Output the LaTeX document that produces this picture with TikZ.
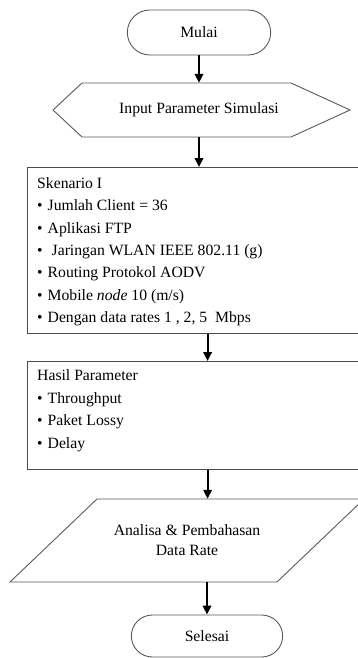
\documentclass[tikz,border=0pt]{standalone}
\usepackage{fontspec}
\setmainfont{Liberation Serif}
\usetikzlibrary{shapes.misc,arrows.meta}
\begin{document}
\begin{tikzpicture}[x=1pt,y=-1pt,
  flowline/.style={line width=2pt, -{Triangle[length=9pt,width=8.5pt]}},
  outline/.style={draw=black!65, line width=0.9pt},
  boxline/.style={draw=black!70, line width=1.2pt},
  terminal/.style={rounded rectangle, outline, txt},
  txt/.style={font=\fontsize{15.7}{22.4}\selectfont},
  listtext/.style={txt, anchor=north west, align=left, inner sep=0pt},
]
\useasboundingbox (0,0) rectangle (358,658);
\clip (0,0) rectangle (358,658);

% start terminal
\node[terminal, minimum width=150pt, minimum height=45pt] (mulai) at (199,32.5) {Mulai};

% input hexagon
\node[txt, minimum width=200pt, minimum height=54pt, inner sep=0pt] (input) at (199,110) {Input Parameter Simulasi};
\draw[outline] (53,110) -- (82,83) -- (291,83) -- (350,110) -- (291,137) -- (82,137) -- cycle;

% scenario box
\node[boxline, rectangle, minimum width=360pt, minimum height=166pt, anchor=north west] (skenario) at (27,167) {};
\node[listtext] (skentext) at (37,177.3) {%
Skenario I\\
\textbullet\hspace{5pt}Jumlah Client = 36\\
\textbullet\hspace{5pt}Aplikasi FTP\\
\textbullet\hspace{9pt}Jaringan WLAN IEEE 802.11 (g)\\
\textbullet\hspace{5pt}Routing Protokol AODV\\
\textbullet\hspace{5pt}Mobile \textit{node} 10 (m/s)\\
\textbullet\hspace{5pt}Dengan data rates 1 , 2, 5~ Mbps};

% results box
\node[boxline, rectangle, minimum width=360pt, minimum height=108pt, anchor=north west] (hasil) at (27,361) {};
\node[listtext] (hasiltext) at (37,369.8) {%
Hasil Parameter\\
\textbullet\hspace{5pt}Throughput\\
\textbullet\hspace{5pt}Paket Lossy\\
\textbullet\hspace{5pt}Delay};

% analysis parallelogram
\node[txt, align=center, minimum height=83pt, inner sep=0pt] (analisa) at (187,540.5) {Analisa \& Pembahasan\\[-2.4pt]Data Rate};
\draw[outline] (97,499) -- (364,499) -- (277,582) -- (10,582) -- cycle;

% end terminal
\node[terminal, minimum width=158pt, minimum height=42pt] (selesai) at (207,636) {Selesai};

% connectors
\draw[flowline] (mulai.south) -- (input.north);
\draw[flowline] (input.south) -- (input.south |- skenario.north);
\draw[flowline] (skenario.south) -- (hasil.north);
\draw[flowline] (hasil.south) -- (hasil.south |- analisa.north);
\draw[flowline] (analisa.south -| selesai.north) -- (selesai.north);
\end{tikzpicture}
\end{document}
